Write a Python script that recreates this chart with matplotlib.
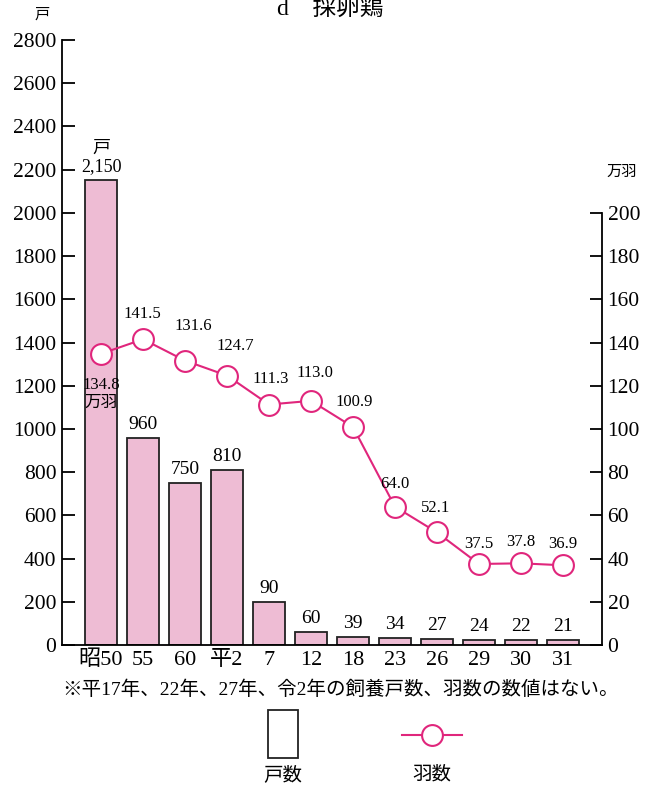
import matplotlib
matplotlib.use('Agg')
import matplotlib.pyplot as plt
from matplotlib.patches import Rectangle
from matplotlib.lines import Line2D

plt.rcParams['font.family'] = ['Liberation Serif', 'Noto Sans CJK JP']

# data
years = ['昭50', '55', '60', '平2', '7', '12', '18', '23', '26', '29', '30', '31']
households = [2150, 960, 750, 810, 200, 60, 39, 34, 27, 24, 22, 21]  # bar heights as drawn
household_labels = ['戸\n2,150', '960', '750', '810', '90', '60', '39', '34', '27', '24', '22', '21']
birds = [134.8, 141.5, 131.6, 124.7, 111.3, 113.0, 100.9, 64.0, 52.1, 37.5, 37.8, 36.9]
bird_labels = ['134.8\n万羽', '141.5', '131.6', '124.7', '111.3', '113.0', '100.9',
               '64.0', '52.1', '37.5', '37.8', '36.9']
# label offsets in pixels (style)
bird_offsets = [(0, -40), (-1, 25), (8, 35), (8, 30), (2, 26), (4, 28), (1, 25),
                (0, 23), (-1, 24), (0, 20), (0, 21), (0, 21)]

bar_color = '#eebcd4'
line_color = '#e0267c'

fig = plt.figure(figsize=(6.45, 7.92), dpi=100)
ax = fig.add_axes([62 / 645, 1 - 645 / 792, 540 / 645, 605 / 792])
x = list(range(len(years)))

ax.bar(x, households, width=0.76, color=bar_color, edgecolor='#222222', linewidth=1.3, zorder=2)
for xi, h, lab in zip(x, households, household_labels):
    ax.annotate(lab, (xi, h), xytext=(0, 5), textcoords='offset pixels',
                ha='center', va='bottom', fontsize=14 if xi else 13, linespacing=1.1)

ax.set_xlim(-0.93, 11.93)
ax.set_ylim(0, 2800)
ax.set_yticks(range(0, 2801, 200))
ax.set_xticks(x)
ax.set_xticklabels(years, fontsize=16)
ax.tick_params(axis='x', length=0, pad=4)
ax.tick_params(axis='y', direction='in', length=9, width=1.3, labelsize=15.5, pad=4)
ax.spines['top'].set_visible(False)
ax.spines['right'].set_visible(False)
for s in ['left', 'bottom']:
    ax.spines[s].set_linewidth(1.3)

ax2 = ax.twinx()
ax2.set_ylim(0, 280)
ax2.set_yticks(range(0, 201, 20))
ax2.spines['right'].set_bounds(0, 200)
ax2.spines['right'].set_linewidth(1.3)
for s in ['top', 'left', 'bottom']:
    ax2.spines[s].set_visible(False)
ax2.tick_params(axis='y', direction='in', length=9, width=1.3, labelsize=15.5, pad=4)
ax2.plot(x, birds, color=line_color, lw=1.5, marker='o', markersize=15,
         markerfacecolor='white', markeredgecolor=line_color, markeredgewidth=1.5, zorder=3)
for xi, b, lab, off in zip(x, birds, bird_labels, bird_offsets):
    ax2.annotate(lab, (xi, b), xytext=off, textcoords='offset pixels',
                 ha='center', va='center', fontsize=12, linespacing=1.15)

# unit labels
fig.text(42 / 645, 1 - 15 / 792, '戸', ha='center', va='center', fontsize=11)
fig.text(622 / 645, 1 - 172 / 792, '万羽', ha='center', va='center', fontsize=11)
fig.text(330 / 645, 1 - 10 / 792, 'd\u3000採卵鶏', ha='center', va='center', fontsize=17)

fig.text(340 / 645, 1 - 690 / 792, '※平17年、22年、27年、令2年の飼養戸数、羽数の数値はない。',
         ha='center', va='center', fontsize=14)

# legend drawn by hand
fig.patches.append(Rectangle((268 / 645, 1 - 758 / 792), 30 / 645, 48 / 792,
                             transform=fig.transFigure, facecolor='white',
                             edgecolor='#222222', linewidth=1.3))
fig.lines.append(Line2D([402 / 645, 462 / 645], [1 - 735 / 792] * 2, transform=fig.transFigure,
                        color=line_color, lw=1.5))
fig.lines.append(Line2D([432 / 645], [1 - 735 / 792], transform=fig.transFigure,
                        marker='o', markersize=15, markerfacecolor='white',
                        markeredgecolor=line_color, markeredgewidth=1.5))
fig.text(283 / 645, 1 - 775 / 792, '戸数', ha='center', va='center', fontsize=14)
fig.text(432 / 645, 1 - 775 / 792, '羽数', ha='center', va='center', fontsize=14)

fig.savefig('out.png', dpi=100)
